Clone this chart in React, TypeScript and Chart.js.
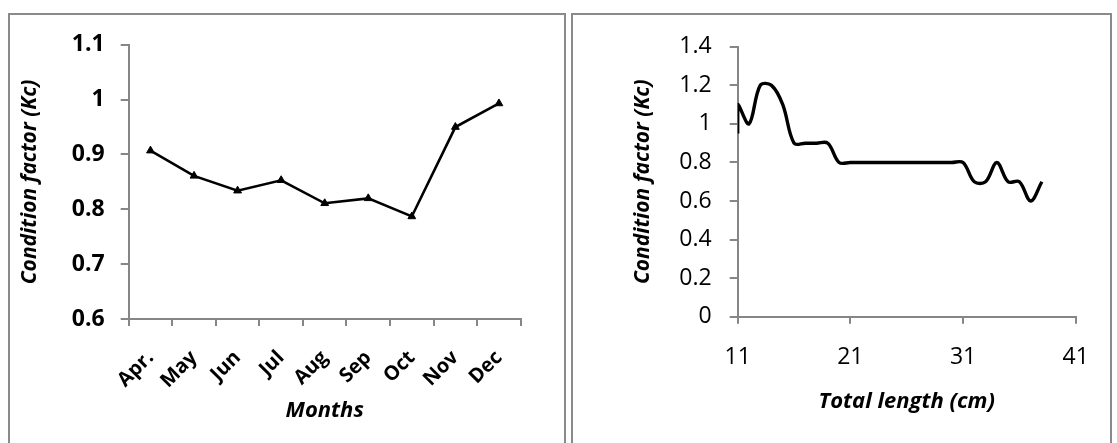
import React, { useEffect, useRef } from "react";
import { Chart, registerables } from "chart.js";

Chart.register(...registerables);

// ---- Left chart data ----
const months = ["Apr.", "May", "Jun", "Jul", "Aug", "Sep", "Oct", "Nov", "Dec"];
const monthlyKc = [0.907, 0.861, 0.834, 0.853, 0.811, 0.82, 0.787, 0.95, 0.993];
const monthYTicks = [0.6, 0.7, 0.8, 0.9, 1.0, 1.1];

// ---- Right chart data ----
const lengthCm = [11, 11, 12, 13, 14, 15, 16, 17, 18, 19, 20, 21, 22, 23, 24, 25, 26, 27, 28, 29, 30, 31, 32, 33, 34, 35, 36, 37, 38];
const lengthKc = [0.95, 1.1, 1.0, 1.2, 1.2, 1.1, 0.9, 0.9, 0.9, 0.9, 0.8, 0.8, 0.8, 0.8, 0.8, 0.8, 0.8, 0.8, 0.8, 0.8, 0.8, 0.8, 0.7, 0.7, 0.8, 0.7, 0.7, 0.6, 0.7];
const lengthXTicks = [11, 21, 31, 41];
const lengthYTicks = [0, 0.2, 0.4, 0.6, 0.8, 1.0, 1.2, 1.4];

const FONT = "'Open Sans', 'DejaVu Sans', sans-serif";
const AXIS_GRAY = "#868686";
const fmt = (v: number) => String(Math.round(v * 10) / 10);

export default function App() {
  const leftRef = useRef<HTMLCanvasElement>(null);
  const rightRef = useRef<HTMLCanvasElement>(null);

  useEffect(() => {
    const left = new Chart(leftRef.current!, {
      type: "line",
      data: {
        labels: months,
        datasets: [
          {
            data: monthlyKc,
            borderColor: "#000",
            backgroundColor: "#000",
            borderWidth: 2.6,
            pointStyle: "triangle",
            pointRadius: 4.5,
            pointBorderWidth: 1,
            tension: 0,
          },
        ],
      },
      options: {
        responsive: false,
        animation: false,
        layout: { padding: { left: 0, top: 28.3, right: 42.3, bottom: 0 } },
        plugins: { legend: { display: false }, tooltip: { enabled: false } },
        scales: {
          x: {
            type: "category",
            offset: true,
            grid: { offset: true, drawOnChartArea: false, drawTicks: true, tickLength: 7, color: AXIS_GRAY, lineWidth: 2 },
            border: { color: AXIS_GRAY, width: 2 },
            ticks: {
              minRotation: 45,
              maxRotation: 45,
              autoSkip: false,
              padding: 20,
              color: "#000",
              font: { family: FONT, weight: "bold", size: 20 },
            },
            title: {
              display: true,
              text: "Months",
              color: "#000",
              font: { family: FONT, weight: "bold", style: "italic", size: 22 },
              padding: { top: 0, bottom: 19 },
            },
            afterFit: (s: any) => {
              s.height = 124;
            },
          },
          y: {
            min: 0.6,
            max: 1.1,
            afterBuildTicks: (s: any) => {
              s.ticks = monthYTicks.map((v) => ({ value: v }));
            },
            grid: { drawOnChartArea: false, drawTicks: true, tickLength: 8, color: AXIS_GRAY, lineWidth: 2 },
            border: { color: AXIS_GRAY, width: 2 },
            ticks: {
              padding: 16,
              color: "#000",
              font: { family: FONT, weight: "bold", size: 23 },
              callback: (v: any) => fmt(Number(v)),
            },
            title: {
              display: true,
              text: "Condition factor (Kc)",
              color: "#000",
              font: { family: FONT, weight: "bold", style: "italic", size: 21 },
              padding: { top: 7, bottom: 0 },
            },
            afterFit: (s: any) => {
              s.width = 118.7;
            },
          },
        },
      },
    } as any);

    const right = new Chart(rightRef.current!, {
      type: "line",
      data: {
        datasets: [
          {
            data: lengthCm.map((x, i) => ({ x, y: lengthKc[i] })),
            borderColor: "#000",
            backgroundColor: "#000",
            borderWidth: 3.4,
            pointRadius: 0,
            tension: 0.35,
          },
        ],
      },
      options: {
        responsive: false,
        animation: false,
        layout: { padding: { left: 0, top: 31, right: 34.3, bottom: 0 } },
        plugins: { legend: { display: false }, tooltip: { enabled: false } },
        scales: {
          x: {
            type: "linear",
            min: 11,
            max: 41,
            afterBuildTicks: (s: any) => {
              s.ticks = lengthXTicks.map((v) => ({ value: v }));
            },
            grid: { drawOnChartArea: false, drawTicks: true, tickLength: 7, color: AXIS_GRAY, lineWidth: 2 },
            border: { color: AXIS_GRAY, width: 2 },
            ticks: {
              padding: 20,
              color: "#000",
              maxRotation: 0,
              font: { family: FONT, size: 23 },
              callback: (v: any) => String(v),
            },
            title: {
              display: true,
              text: "Total length (cm)",
              color: "#000",
              font: { family: FONT, weight: "bold", style: "italic", size: 22 },
              padding: { top: 0, bottom: 28 },
            },
            afterFit: (s: any) => {
              s.height = 126.3;
            },
          },
          y: {
            min: 0,
            max: 1.4,
            afterBuildTicks: (s: any) => {
              s.ticks = lengthYTicks.map((v) => ({ value: v }));
            },
            grid: { drawOnChartArea: false, drawTicks: true, tickLength: 8, color: AXIS_GRAY, lineWidth: 2 },
            border: { color: AXIS_GRAY, width: 2 },
            ticks: {
              padding: 18,
              color: "#000",
              font: { family: FONT, size: 23 },
              callback: (v: any) => fmt(Number(v)),
            },
            title: {
              display: true,
              text: "Condition factor (Kc)",
              color: "#000",
              font: { family: FONT, weight: "bold", style: "italic", size: 21 },
              padding: { top: 57, bottom: 0 },
            },
            afterFit: (s: any) => {
              s.width = 164.7;
            },
          },
        },
      },
    } as any);

    return () => {
      left.destroy();
      right.destroy();
    };
  }, []);

  const panel: React.CSSProperties = {
    position: "fixed",
    top: 13,
    height: 500,
    boxSizing: "border-box",
    border: "2px solid #8a8a8a",
    background: "#fff",
  };

  return (
    <div style={{ position: "relative", width: 1101, height: 427 }}>
      <div style={{ ...panel, left: 8, width: 558 }} />
      <div style={{ ...panel, left: 571, width: 541 }} />
      <canvas
        ref={leftRef}
        width={553}
        height={428}
        style={{ position: "fixed", left: 10, top: 15, width: 553, height: 428 }}
      />
      <canvas
        ref={rightRef}
        width={537}
        height={428}
        style={{ position: "fixed", left: 573, top: 15, width: 537, height: 428 }}
      />
    </div>
  );
}
